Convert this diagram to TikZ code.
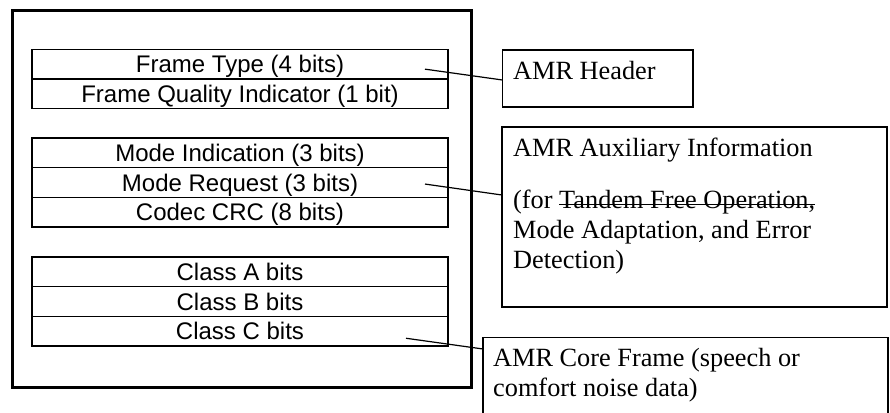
\documentclass[tikz,border=0pt]{standalone}
\usepackage{fontspec}
\setmainfont{Liberation Serif}
\newfontfamily\fieldfont{Liberation Sans}
\newsavebox\strikebox
\newcommand\strike[1]{\sbox\strikebox{#1}\rlap{\rule[3.5pt]{\wd\strikebox}{1.1pt}}\usebox\strikebox}
\usetikzlibrary{positioning,calc}

\tikzstyle{field}=[rectangle,draw,line width=1.5pt,outer sep=0pt,minimum width=416pt,minimum height=29.7pt,inner sep=0pt,text height=17.2pt,text depth=0pt,font=\fieldfont\fontsize{24}{28}\selectfont]
\tikzstyle{infobox}=[rectangle,draw,line width=1.2pt,outer sep=0pt,anchor=north west,inner sep=0pt]
\tikzstyle{infotext}=[anchor=north west,align=left,inner sep=0pt,font=\fontsize{26.3}{30}\selectfont]
\tikzstyle{edge} = [draw,line width=1.2pt,-]

\begin{document}
\begin{tikzpicture}[x=1pt,y=1pt]
	\path[use as bounding box,clip] (0,0) rectangle (890,-412);
	\node [rectangle,draw,line width=3pt,outer sep=0pt,minimum width=459pt,minimum height=376.5pt,anchor=north west] (frame) at (12,-10.5) {};

	% header fields
	\node [field,anchor=north west] (ftype) at (32,-49.3) {Frame Type (4 bits)};
	\node [field,below=0pt of ftype] (fqi) {Frame Quality Indicator (1 bit)};

	% auxiliary fields
	\node [field,anchor=north west] (modeind) at (32,-138) {Mode Indication (3 bits)};
	\node [field,below=0pt of modeind] (modereq) {Mode Request (3 bits)};
	\node [field,below=0pt of modereq] (crc) {Codec CRC (8 bits)};

	% core frame fields
	\node [field,anchor=north west] (classa) at (32,-257) {Class A bits};
	\node [field,below=0pt of classa] (classb) {Class B bits};
	\node [field,below=0pt of classb] (classc) {Class C bits};

	% callouts
	\node [infobox,minimum width=190.5pt,minimum height=57pt] (hdr) at (502.5,-50) {};
	\node [infotext] (hdrtxt) at ($(hdr.north west)+(10.5,-11)$) {AMR Header};
	\node [infobox,minimum width=385pt,minimum height=180pt] (aux) at (502,-127) {};
	\node [infotext] (auxtxt) at ($(aux.north west)+(11,-11)$) {AMR Auxiliary Information\\[22pt]
		(for \strike{Tandem Free Operation,}\\
		Mode Adaptation, and Error\\
		Detection)};
	\node [infobox,minimum width=405pt,minimum height=120pt] (core) at (483,-337.5) {};
	\node [infotext] (coretxt) at ($(core.north west)+(10,-11)$) {AMR Core Frame (speech or\\
		comfort noise data)};

	\coordinate (ftpt) at ($(ftype.east)+(-23,-5)$);
	\coordinate (hdrin) at ($(hdr.north west)+(0,-30)$);
	\coordinate (mrpt) at ($(modereq.east)+(-23,-1.5)$);
	\coordinate (auxin) at ($(aux.north west)+(0,-68)$);
	\coordinate (ccpt) at ($(classc.east)+(-42,-7)$);
	\coordinate (corein) at ($(core.north west)+(0,-11.5)$);

	\draw [edge] (ftpt) -- (hdrin);
	\draw [edge] (mrpt) -- (auxin);
	\draw [edge] (ccpt) -- (corein);
\end{tikzpicture}
\end{document}
